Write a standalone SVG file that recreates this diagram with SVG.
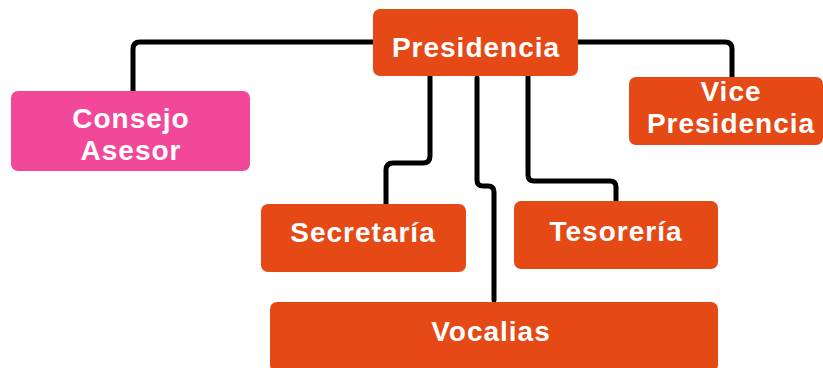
<svg xmlns="http://www.w3.org/2000/svg" width="823" height="368" viewBox="0 0 823 368">
<style>
.box{fill:#E54916}
.pink{fill:#F3489A}
.t{font-family:"Liberation Sans",Arial,sans-serif;font-weight:bold;font-size:28px;fill:#FFFFFF;text-anchor:middle;letter-spacing:1px}
.c{fill:none;stroke:#000;stroke-width:5;stroke-linejoin:round;stroke-linecap:round}
</style>
<rect width="823" height="368" fill="#FFFFFF"/>
<g id="connectors">
<path class="c" d="M373,42 H140 Q133,42 133,49 V91"/>
<path class="c" d="M578,42 H725 Q732,42 732,49 V77"/>
<path class="c" d="M430,77 V156 Q430,163 423,163 H393 Q386,163 386,170 V206"/>
<path class="c" d="M477,78 V180 Q477,186 483,186 H488 Q494,186 494,192 V300"/>
<path class="c" d="M528,77 V175 Q528,181 534,181 H610 Q616,181 616,187 V201"/>
</g>
<g id="presidencia">
<rect class="box" x="373" y="9" width="205" height="67" rx="7"/>
<text class="t" x="476" y="57">Presidencia</text>
</g>
<g id="consejo">
<rect class="pink" x="11" y="91" width="239" height="80" rx="7"/>
<text class="t" x="131" y="128">Consejo</text>
<text class="t" x="131" y="160">Asesor</text>
</g>
<g id="vice">
<rect class="box" x="629" y="77" width="194" height="68" rx="7"/>
<text class="t" x="731" y="101">Vice</text>
<text class="t" x="731" y="133">Presidencia</text>
</g>
<g id="secretaria">
<rect class="box" x="261" y="204" width="205" height="68" rx="7"/>
<text class="t" x="363" y="242">Secretaría</text>
</g>
<g id="tesoreria">
<rect class="box" x="514" y="201" width="204" height="68" rx="7"/>
<text class="t" x="616" y="241">Tesorería</text>
</g>
<g id="vocalias">
<rect class="box" x="270" y="302" width="448" height="70" rx="7"/>
<text class="t" x="491" y="341">Vocalias</text>
</g>
</svg>
